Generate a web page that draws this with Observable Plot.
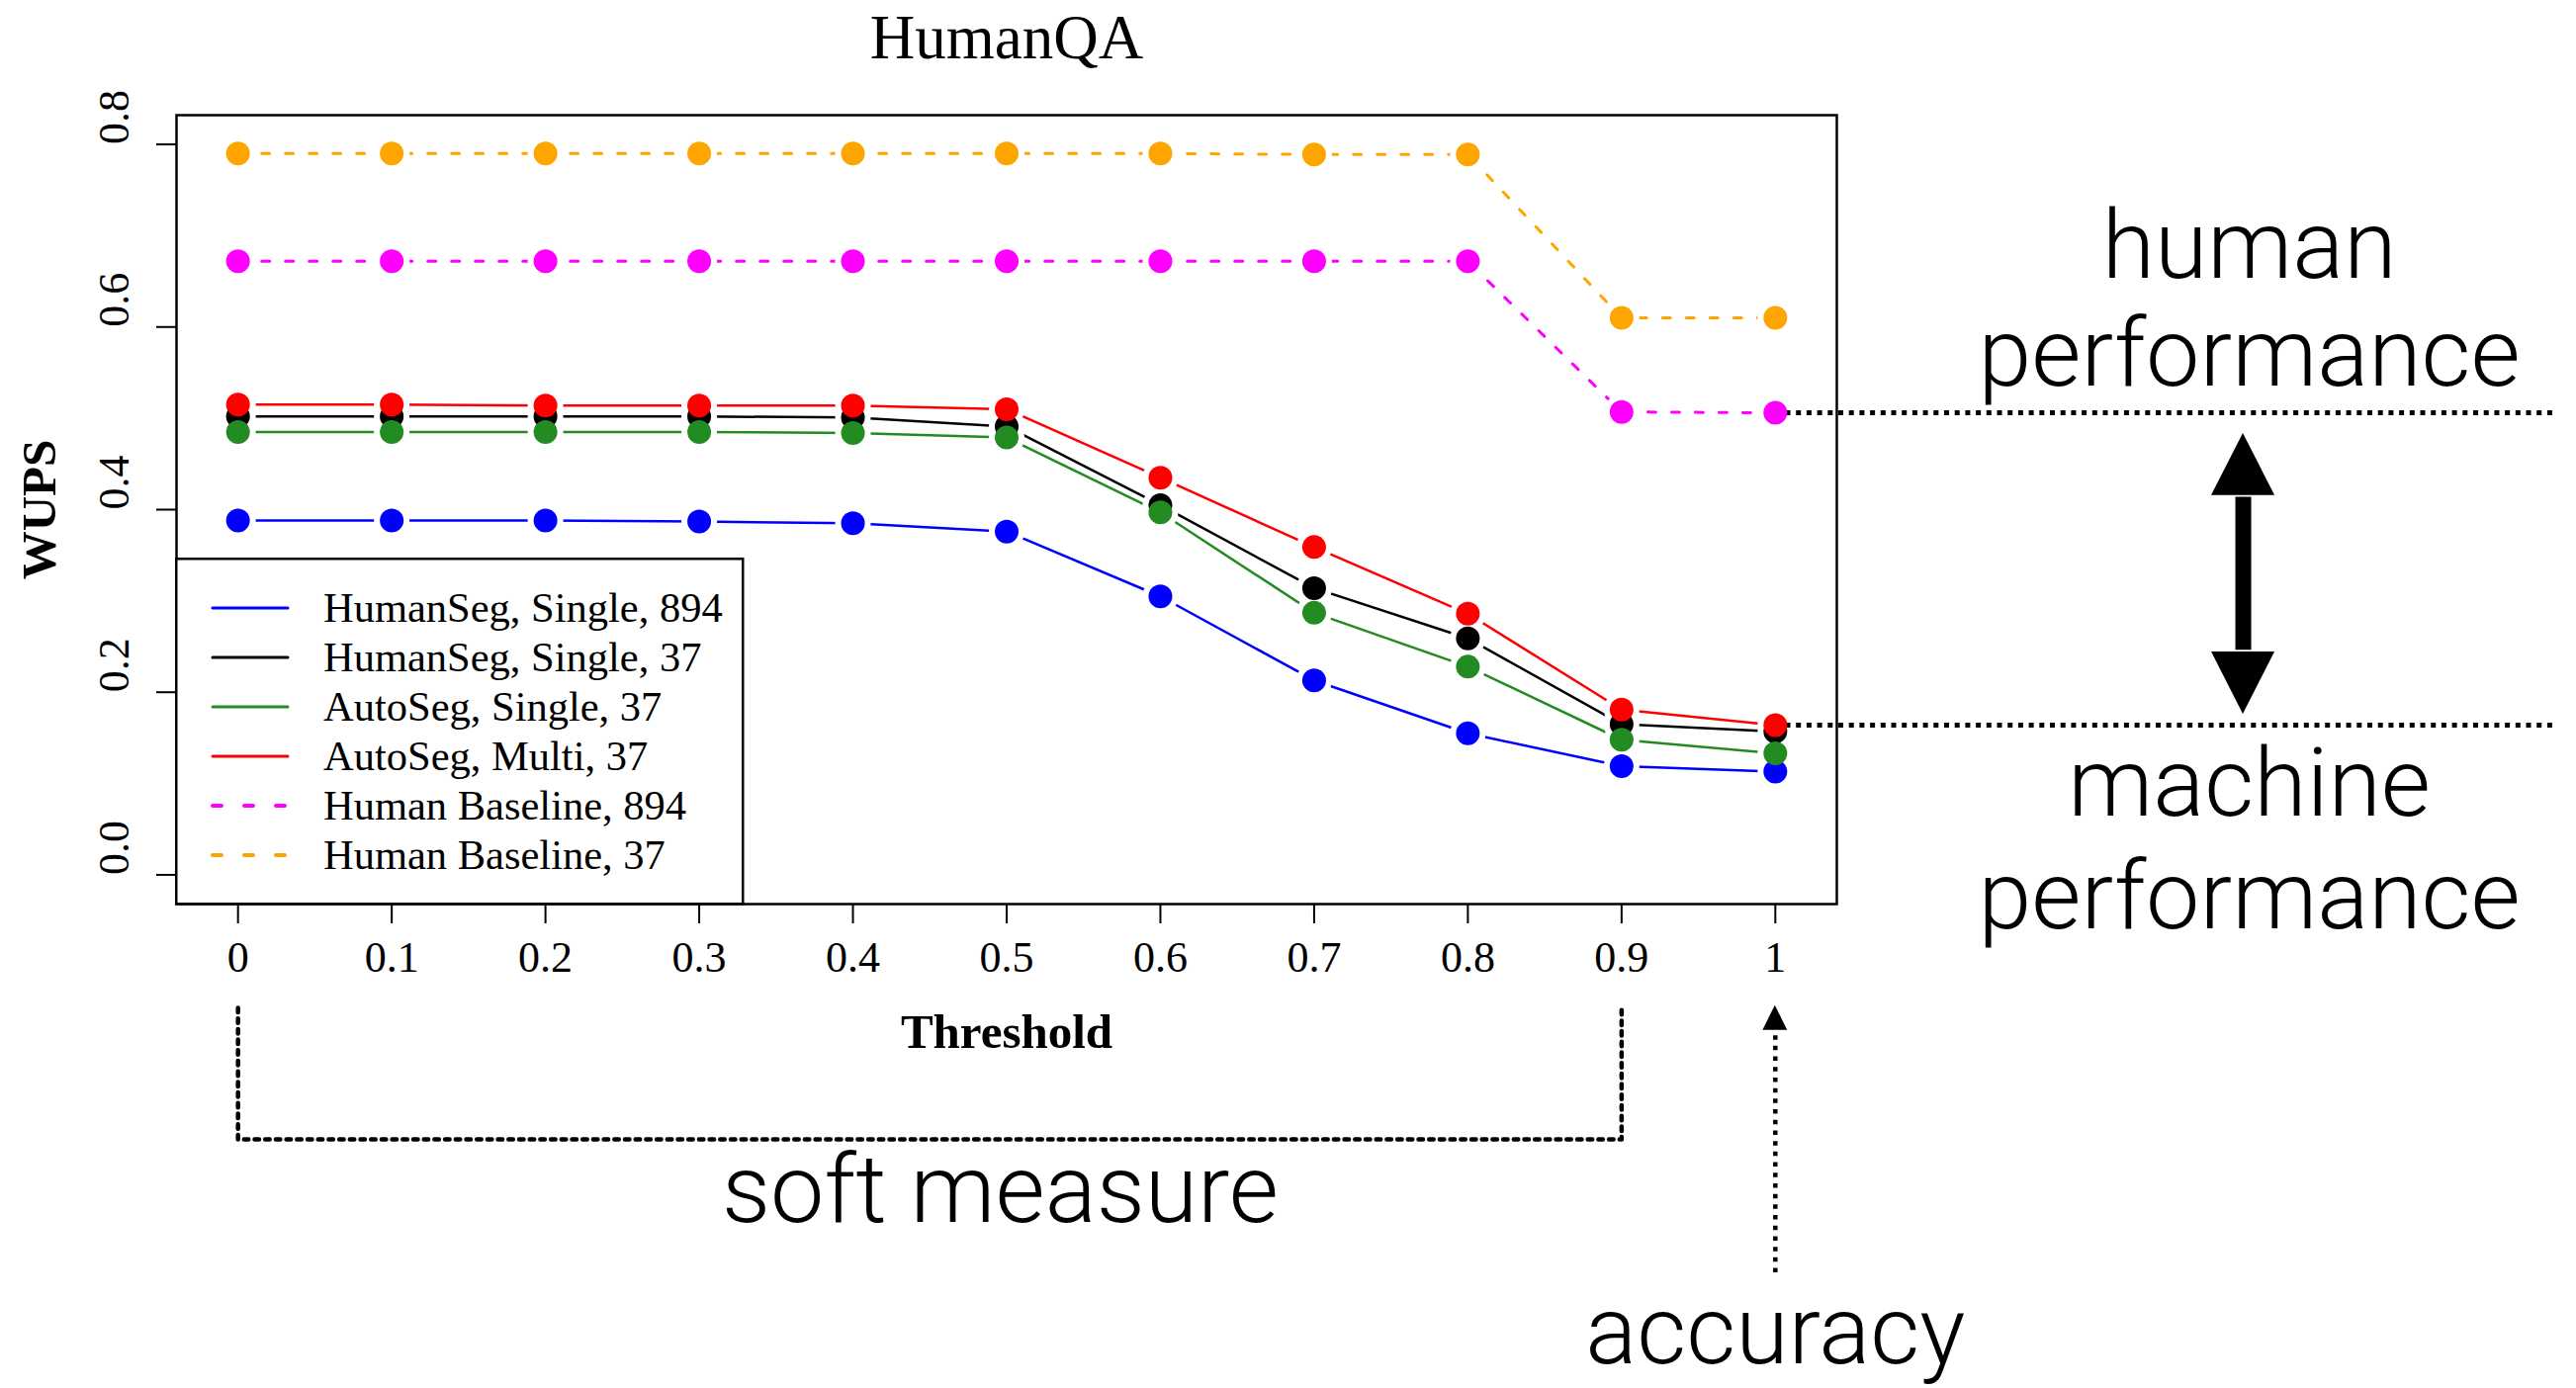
<!DOCTYPE html>
<html>
<head>
<meta charset="utf-8">
<script src="https://cdn.jsdelivr.net/npm/d3@7"></script>
<script src="https://cdn.jsdelivr.net/npm/@observablehq/plot@0.6"></script>
<style>
  html, body { margin: 0; padding: 0; background: #fff; }
  #wrap { position: relative; width: 2605px; height: 1404px; overflow: hidden; }
  #legend { position: absolute; left: 177px; top: 564px; }
</style>
</head>
<body>
<div id="wrap"></div>
<script>
// ---- data ----
const thresholds = [0, 0.1, 0.2, 0.3, 0.4, 0.5, 0.6, 0.7, 0.8, 0.9, 1];
const xTickLabels = ["0", "0.1", "0.2", "0.3", "0.4", "0.5", "0.6", "0.7", "0.8", "0.9", "1"];
const yTicks = [0, 0.2, 0.4, 0.6, 0.8];
const yTickLabels = ["0.0", "0.2", "0.4", "0.6", "0.8"];

const seriesNames = ["HumanSeg, Single, 894", "HumanSeg, Single, 37", "AutoSeg, Single, 37",
                     "AutoSeg, Multi, 37", "Human Baseline, 894", "Human Baseline, 37"];
const seriesColors = ["#0000ff", "#000000", "#228b22", "#ff0000", "#ff00ff", "#ffa500"];
const seriesDashed = [false, false, false, false, true, true];

const humanSegSingle894 = [0.388, 0.388, 0.388, 0.387, 0.385, 0.376, 0.305, 0.213, 0.155, 0.119, 0.113];
const humanSegSingle37  = [0.502, 0.502, 0.502, 0.502, 0.501, 0.491, 0.405, 0.314, 0.259, 0.165, 0.157];
const autoSegSingle37   = [0.485, 0.485, 0.485, 0.485, 0.484, 0.479, 0.397, 0.287, 0.228, 0.148, 0.133];
const autoSegMulti37    = [0.515, 0.515, 0.514, 0.514, 0.514, 0.510, 0.435, 0.359, 0.286, 0.181, 0.164];
const humanBaseline894  = [0.672, 0.672, 0.672, 0.672, 0.672, 0.672, 0.672, 0.672, 0.672, 0.507, 0.506];
const humanBaseline37   = [0.790, 0.790, 0.790, 0.790, 0.790, 0.790, 0.790, 0.789, 0.789, 0.610, 0.610];
const seriesValues = [humanSegSingle894, humanSegSingle37, autoSegSingle37, autoSegMulti37, humanBaseline894, humanBaseline37];

// annotation texts (positions in data units of the chart's scales)
const annotationLabels = [
  {label: "human",        x: 1.3083, y: 0.6880},
  {label: "performance",  x: 1.3083, y: 0.5690},
  {label: "machine",      x: 1.3083, y: 0.0990},
  {label: "performance",  x: 1.3083, y: -0.0245},
  {label: "soft measure", x: 0.4958, y: -0.3470},
  {label: "accuracy",     x: 1.0,    y: -0.5010}
];

// ---- build ----
const rows = [];
seriesNames.forEach((name, s) => {
  thresholds.forEach((t, i) => rows.push({series: name, idx: s, x: t, y: seriesValues[s][i]}));
});

const serif = "'Liberation Serif', 'Times New Roman', serif";
const sans = "Roboto, 'Helvetica Neue', Helvetica, Arial, sans-serif";

const lineMarks = seriesNames.map((name, s) =>
  Plot.line(rows.filter(r => r.idx === s), {
    x: "x", y: "y",
    stroke: seriesColors[s],
    strokeWidth: seriesDashed[s] ? 3 : 2.5,
    strokeDasharray: seriesDashed[s] ? "8,16" : null,
    strokeLinecap: "round"
  })
);
const dotMarks = seriesNames.map((name, s) =>
  Plot.dot(rows.filter(r => r.idx === s), {x: "x", y: "y", r: 12, fill: seriesColors[s], stroke: "none"})
);

const lastMagenta = humanBaseline894[humanBaseline894.length - 1];
const lastRed = autoSegMulti37[autoSegMulti37.length - 1];

// double-arrow geometry
const dblX = 1.3044, dblHW = 0.0206;
const dblTop = {tip: 0.4834, base: 0.4155};
const dblBot = {tip: 0.1759, base: 0.2441};
// accuracy arrow
const accX = 1, accHW = 0.0080;
const accHead = {tip: -0.1432, base: -0.1703};
const accTail = -0.4359;
// soft-measure bracket
const bracketTop = -0.1457, bracketBottom = -0.2897;

const chart = Plot.plot({
  width: 2605,
  height: 1404,
  marginLeft: 178,
  marginRight: 748,
  marginTop: 116,
  marginBottom: 490,
  style: {fontFamily: serif, background: "white", color: "black"},
  x: {domain: [-0.04, 1.04]},
  y: {domain: [-0.032, 0.832]},
  marks: [
    Plot.frame({stroke: "black", strokeWidth: 2.5}),
    Plot.axisX(thresholds, {
      tickSize: 20, tickPadding: 17, fontSize: 44, strokeWidth: 2,
      tickFormat: d => xTickLabels[thresholds.indexOf(d)], label: null
    }),
    Plot.axisY(yTicks, {tickSize: 20, strokeWidth: 2, tickFormat: () => "", label: null}),
    Plot.text(yTicks, {
      y: d => d, text: d => yTickLabels[yTicks.indexOf(d)],
      frameAnchor: "left", dx: -63, rotate: -90, fontSize: 44
    }),
    // title and axis titles
    Plot.text(["HumanQA"], {x: 0.5, y: 0.9165, text: d => d, fontSize: 63}),
    Plot.text(["WUPS"], {x: -0.1288, y: 0.4, text: d => d, rotate: -90, fontSize: 49, fontWeight: "bold"}),
    Plot.text(["Threshold"], {x: 0.5, y: -0.1722, text: d => d, fontSize: 49, fontWeight: "bold"}),
    // data lines
    ...lineMarks,
    // gaps around points (R type = "b")
    Plot.dot(rows, {x: "x", y: "y", r: 18, fill: "white", stroke: "none"}),
    // dotted reference lines from last human / machine points
    Plot.ruleY([lastMagenta, lastRed], {
      y: d => d, x1: 1, x2: 1.507, stroke: "black", strokeWidth: 5, strokeDasharray: "5,5.7"
    }),
    ...dotMarks,
    // double arrow
    Plot.ruleX([dblX], {x: d => d, y1: dblBot.base + 0.002, y2: dblTop.base - 0.002, stroke: "black", strokeWidth: 16}),
    Plot.areaX([{y: dblTop.tip, x1: dblX, x2: dblX}, {y: dblTop.base, x1: dblX - dblHW, x2: dblX + dblHW}],
      {y: "y", x1: "x1", x2: "x2", fill: "black"}),
    Plot.areaX([{y: dblBot.base, x1: dblX - dblHW, x2: dblX + dblHW}, {y: dblBot.tip, x1: dblX, x2: dblX}],
      {y: "y", x1: "x1", x2: "x2", fill: "black"}),
    // soft-measure bracket
    Plot.line([{x: 0, y: bracketTop}, {x: 0, y: bracketBottom}, {x: 0.9, y: bracketBottom}, {x: 0.9, y: bracketTop}],
      {x: "x", y: "y", stroke: "black", strokeWidth: 4.5, strokeDasharray: "4.5,6.2"}),
    // accuracy arrow
    Plot.ruleX([accX], {x: d => d, y1: accTail, y2: accHead.base, stroke: "black", strokeWidth: 4.5, strokeDasharray: "4.5,6.2"}),
    Plot.areaX([{y: accHead.tip, x1: accX, x2: accX}, {y: accHead.base, x1: accX - accHW, x2: accX + accHW}],
      {y: "y", x1: "x1", x2: "x2", fill: "black"}),
    // annotation texts
    Plot.text(annotationLabels, {
      x: "x", y: "y", text: "label", fontSize: 97, fontFamily: sans, fontWeight: 300
    })
  ]
});
document.getElementById("wrap").appendChild(chart);

// ---- legend (inside the plot area, bottom-left) ----
const lg = d3.select("#wrap").append("svg")
  .attr("id", "legend").attr("width", 576).attr("height", 352);
lg.append("rect").attr("x", 1.25).attr("y", 1.25).attr("width", 573).attr("height", 349)
  .attr("fill", "white").attr("stroke", "black").attr("stroke-width", 2.5);
seriesNames.forEach((name, i) => {
  const cy = 51 + 50 * i;
  lg.append("line")
    .attr("x1", 38).attr("x2", 114).attr("y1", cy).attr("y2", cy)
    .attr("stroke", seriesColors[i])
    .attr("stroke-width", seriesDashed[i] ? 4 : 3)
    .attr("stroke-linecap", "round")
    .attr("stroke-dasharray", seriesDashed[i] ? "9,23" : null);
  lg.append("text")
    .attr("x", 150).attr("y", cy).attr("dy", "0.33em")
    .attr("font-family", serif).attr("font-size", 42.5)
    .text(name);
});
</script>
</body>
</html>
